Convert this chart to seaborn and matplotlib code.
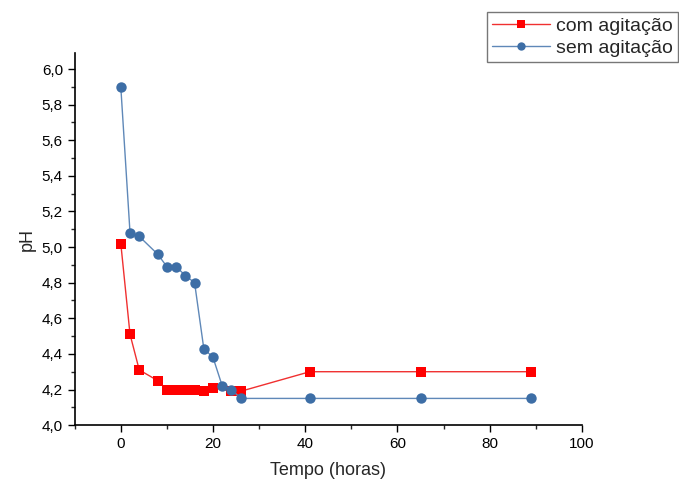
import matplotlib
matplotlib.use("Agg")
import matplotlib.pyplot as plt
import seaborn as sns
import pandas as pd
from matplotlib.ticker import MultipleLocator, FuncFormatter

# Data
com_x = [0, 2, 4, 8, 10, 12, 14, 16, 18, 20, 24, 26, 41, 65, 89]
com_y = [5.02, 4.51, 4.31, 4.25, 4.20, 4.20, 4.20, 4.20, 4.19, 4.21, 4.19, 4.19, 4.30, 4.30, 4.30]
sem_x = [0, 2, 4, 8, 10, 12, 14, 16, 18, 20, 22, 24, 26, 41, 65, 89]
sem_y = [5.90, 5.08, 5.06, 4.96, 4.89, 4.89, 4.84, 4.80, 4.43, 4.38, 4.22, 4.20, 4.15, 4.15, 4.15, 4.15]
series_names = ["com agitação", "sem agitação"]

df = pd.concat([
    pd.DataFrame({"Tempo": com_x, "pH": com_y, "serie": series_names[0]}),
    pd.DataFrame({"Tempo": sem_x, "pH": sem_y, "serie": series_names[1]}),
], ignore_index=True)

sns.set_style("ticks")
plt.rcParams['font.family'] = ['Liberation Sans', 'DejaVu Sans']

fig = plt.figure(figsize=(6.79, 4.82), dpi=100)
ax = fig.add_axes([0.110, 0.118, 0.747, 0.772])

palette = {series_names[0]: "#FF0000", series_names[1]: "#3D6EA6"}
markers = {series_names[0]: "s", series_names[1]: "o"}
sns.lineplot(data=df, x="Tempo", y="pH", hue="serie", style="serie",
             palette=palette, markers=markers, dashes=False, sort=False,
             markersize=7.5, linewidth=1.0, markeredgewidth=0, ax=ax,
             estimator=None)

line_colors = {"#ff0000": "#F03030", "#3d6ea6": "#5F88B8"}
for ln in ax.get_lines():
    c = matplotlib.colors.to_hex(ln.get_color())
    if c in line_colors:
        ln.set_markerfacecolor(c)
        ln.set_markeredgecolor(c)
        ln.set_color(line_colors[c])

ax.set_xlim(-10, 100)
ax.set_ylim(4.0, 6.09)
ax.xaxis.set_major_locator(MultipleLocator(20))
ax.xaxis.set_minor_locator(MultipleLocator(10))
ax.yaxis.set_major_locator(MultipleLocator(0.2))
ax.yaxis.set_minor_locator(MultipleLocator(0.1))
ax.yaxis.set_major_formatter(FuncFormatter(lambda v, p: f"{v:.1f}".replace(".", ",")))
ax.tick_params(axis='both', which='major', direction='out', length=5, width=1, labelsize=11, colors='black')
ax.tick_params(axis='both', which='minor', direction='out', length=3, width=1)
for s in ['top', 'right']:
    ax.spines[s].set_visible(False)
for s in ['left', 'bottom']:
    ax.spines[s].set_linewidth(1.2)
    ax.spines[s].set_color('black')

ax.set_xlabel("Tempo (horas)", fontsize=13, labelpad=8)
ax.set_ylabel("pH", fontsize=13, labelpad=4)

handles, labels = ax.get_legend_handles_labels()
leg = ax.legend(handles, labels, loc='upper right', bbox_to_anchor=(0.998, 0.975),
                bbox_transform=fig.transFigure, borderaxespad=0, fontsize=14,
                frameon=True, fancybox=False, edgecolor='#555555', borderpad=0.25,
                handlelength=3.0, handletextpad=0.3, labelspacing=0.25,
                markerscale=0.8)
leg.get_frame().set_linewidth(1.0)

fig.savefig("out.png", dpi=100)
